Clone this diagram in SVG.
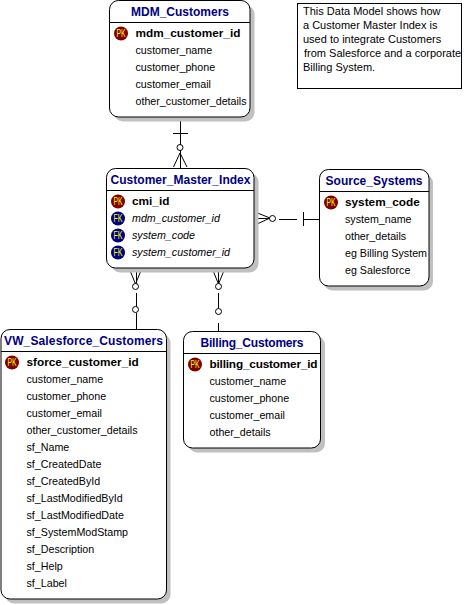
<svg xmlns="http://www.w3.org/2000/svg" width="467" height="605" viewBox="0 0 467 605">
<style>
text{font-family:"Liberation Sans",Arial,sans-serif;font-size:10.7px;fill:#000}
.t{font-size:12px;font-weight:bold;fill:#000080;text-anchor:middle}
.k{font-weight:bold;font-size:11.8px}
.i{font-style:italic}
.box{fill:#fff;stroke:#000;stroke-width:1}
.sh{fill:#c0c0c0;stroke:none}
.l{stroke:#000;stroke-width:1;fill:none}
.o{stroke:#000;stroke-width:1;fill:#fff}
.b{font-size:10px;fill:#ffff00;text-anchor:middle}
.pk{fill:#800000}
.fk{fill:#000080}
.n{font-size:11px}
</style>
<rect width="467" height="605" fill="#fff"/>
<g id="connectors">
<path class="l" d="M180.500 117V168M173 133.500H188M173.500 167L180 153L187 167"/>
<circle class="o" cx="180" cy="147.500" r="3"/>
<path class="l" d="M254 218.500H270M255 212L270 218L255 225M279 219.500H297M303.500 212V226M303 219.500H319"/>
<circle class="o" cx="272.500" cy="218.500" r="3"/>
<path class="l" d="M129 268L135.500 284L142 268M136.500 268V284M136.500 293V307M136.500 313V329"/>
<circle class="o" cx="135.500" cy="286.500" r="3"/>
<circle class="o" cx="135.500" cy="309.500" r="3"/>
<path class="l" d="M212 268L218.500 284L225 268M218.500 268V284M218.500 293V308M218.500 323V331"/>
<circle class="o" cx="218.500" cy="286.500" r="3"/>
<circle class="o" cx="218.500" cy="311.500" r="3"/>
</g>
<g id="mdm_customers">
<rect class="sh" x="114" y="5" width="140.500" height="116.500" rx="9"/>
<rect class="box" x="109.500" y=".5" width="140.500" height="116.500" rx="9"/>
<path class="l" d="M109.500 22.500H250"/>
<text class="t" x="180" y="16" textLength="98">MDM_Customers</text>
<circle class="pk" cx="121" cy="33.500" r="7"/><text class="b" x="121" y="37" textLength="9" lengthAdjust="spacingAndGlyphs">PK</text>
<text class="k" x="135.500" y="37">mdm_customer_id</text>
<text x="135.500" y="54">customer_name</text>
<text x="135.500" y="71">customer_phone</text>
<text x="135.500" y="88">customer_email</text>
<text x="135.500" y="105">other_customer_details</text>
</g>
<g id="customer_master_index">
<rect class="sh" x="111" y="173" width="147.500" height="99.500" rx="9"/>
<rect class="box" x="106.500" y="168.500" width="147.500" height="99.500" rx="9"/>
<path class="l" d="M106.500 190.500H254"/>
<text class="t" x="180.500" y="184" textLength="140">Customer_Master_Index</text>
<circle class="pk" cx="118" cy="201.500" r="7"/><text class="b" x="118" y="205" textLength="9" lengthAdjust="spacingAndGlyphs">PK</text>
<circle class="fk" cx="118" cy="218.500" r="7"/><text class="b" x="118" y="222" textLength="9" lengthAdjust="spacingAndGlyphs">FK</text>
<circle class="fk" cx="118" cy="235.500" r="7"/><text class="b" x="118" y="239" textLength="9" lengthAdjust="spacingAndGlyphs">FK</text>
<circle class="fk" cx="118" cy="252.500" r="7"/><text class="b" x="118" y="256" textLength="9" lengthAdjust="spacingAndGlyphs">FK</text>
<text class="k" x="132" y="205">cmi_id</text>
<text class="i" x="132" y="222">mdm_customer_id</text>
<text class="i" x="132" y="239">system_code</text>
<text class="i" x="132" y="256">system_customer_id</text>
</g>
<g id="source_systems">
<rect class="sh" x="323.500" y="174" width="109.500" height="116.500" rx="9"/>
<rect class="box" x="319.500" y="169.500" width="109.500" height="116.500" rx="9"/>
<path class="l" d="M319.500 191.500H429"/>
<text class="t" x="374" y="185" textLength="97">Source_Systems</text>
<circle class="pk" cx="331" cy="202.500" r="7"/><text class="b" x="331" y="206" textLength="9" lengthAdjust="spacingAndGlyphs">PK</text>
<text class="k" x="345" y="206">system_code</text>
<text x="345" y="223">system_name</text>
<text x="345" y="240">other_details</text>
<text x="345" y="257">eg Billing System</text>
<text x="345" y="274">eg Salesforce</text>
</g>
<g id="vw_salesforce_customers">
<rect class="sh" x="5" y="334" width="165.500" height="269.500" rx="9"/>
<rect class="box" x="1" y="329.500" width="165.500" height="269.500" rx="9"/>
<path class="l" d="M1 351.500H166.500"/>
<text class="t" x="83.500" y="345" textLength="159">VW_Salesforce_Customers</text>
<circle class="pk" cx="12" cy="362.500" r="7"/><text class="b" x="12" y="366" textLength="9" lengthAdjust="spacingAndGlyphs">PK</text>
<text class="k" x="26.500" y="366">sforce_customer_id</text>
<text x="26.500" y="383">customer_name</text>
<text x="26.500" y="400">customer_phone</text>
<text x="26.500" y="417">customer_email</text>
<text x="26.500" y="434">other_customer_details</text>
<text x="26.500" y="451">sf_Name</text>
<text x="26.500" y="468">sf_CreatedDate</text>
<text x="26.500" y="485">sf_CreatedById</text>
<text x="26.500" y="502">sf_LastModifiedById</text>
<text x="26.500" y="519">sf_LastModifiedDate</text>
<text x="26.500" y="536">sf_SystemModStamp</text>
<text x="26.500" y="553">sf_Description</text>
<text x="26.500" y="570">sf_Help</text>
<text x="26.500" y="587">sf_Label</text>
</g>
<g id="billing_customers">
<rect class="sh" x="188" y="336" width="137" height="116.500" rx="9"/>
<rect class="box" x="183.500" y="331.500" width="137" height="116.500" rx="9"/>
<path class="l" d="M183.500 353.500H320.500"/>
<text class="t" x="252" y="347" textLength="103">Billing_Customers</text>
<circle class="pk" cx="195" cy="364.500" r="7"/><text class="b" x="195" y="368" textLength="9" lengthAdjust="spacingAndGlyphs">PK</text>
<text class="k" x="209.500" y="368" textLength="108">billing_customer_id</text>
<text x="209.500" y="385">customer_name</text>
<text x="209.500" y="402">customer_phone</text>
<text x="209.500" y="419">customer_email</text>
<text x="209.500" y="436">other_details</text>
</g>
<g id="note">
<rect x="297.500" y="3.500" width="164" height="85" fill="#fff" stroke="#000"/>
<text class="n" x="303" y="15">This Data Model shows how</text>
<text class="n" x="303" y="29">a Customer Master Index is</text>
<text class="n" x="303" y="43">used to integrate Customers</text>
<text class="n" x="304" y="57">from Salesforce and a corporate</text>
<text class="n" x="303" y="71">Billing System.</text>
</g>
</svg>
